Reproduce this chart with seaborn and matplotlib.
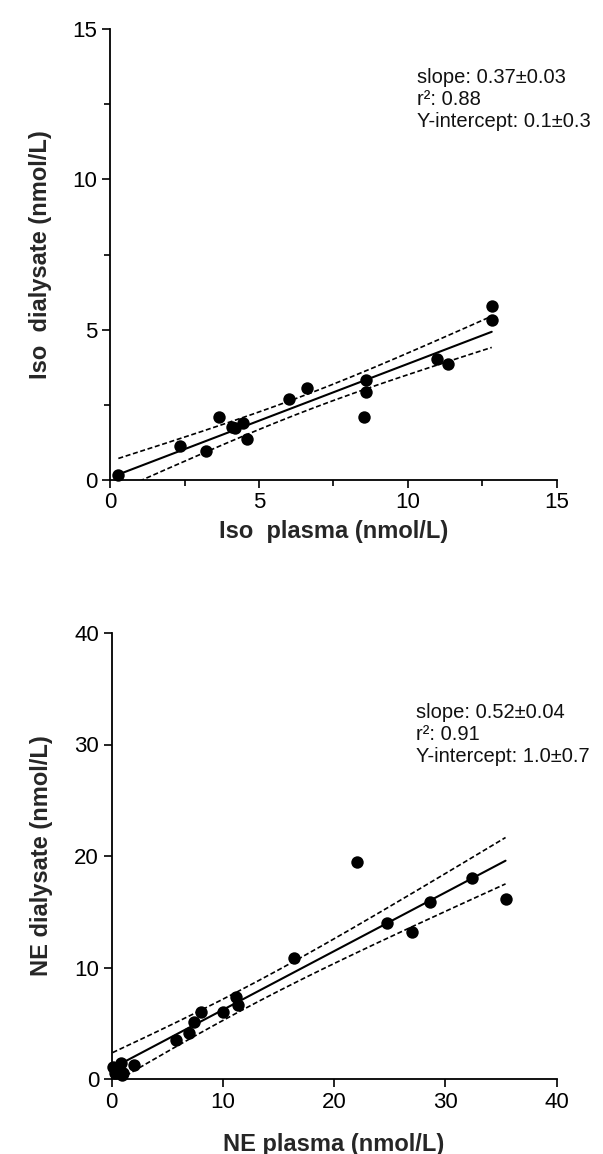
import numpy as np
import pandas as pd
import matplotlib
matplotlib.use("Agg")
import matplotlib.pyplot as plt
from matplotlib.ticker import MultipleLocator
import seaborn as sns

# ---- data ----
iso_plasma = [0.28, 2.35, 3.22, 3.65, 4.08, 4.20, 4.47, 4.59, 6.02, 6.60,
              8.58, 8.58, 8.53, 10.98, 11.33, 12.81, 12.81]
iso_dialysate = [0.17, 1.13, 0.96, 2.10, 1.75, 1.72, 1.89, 1.35, 2.69, 3.05,
                 3.33, 2.92, 2.10, 4.02, 3.85, 5.80, 5.32]

ne_plasma = [0.10, 0.30, 0.85, 0.90, 1.00, 2.00, 5.80, 7.00, 7.40, 8.00,
             10.05, 11.16, 11.34, 16.43, 22.03, 24.73, 27.03, 28.62, 32.36, 35.42]
ne_dialysate = [1.10, 0.50, 1.40, 0.40, 0.50, 1.30, 3.50, 4.15, 5.10, 6.04,
                5.98, 7.38, 6.64, 10.88, 19.49, 14.02, 13.21, 15.85, 18.05, 16.12]

iso_stats = ["slope: 0.37\u00b10.03", "r\u00b2: 0.88", "Y-intercept: 0.1\u00b10.3"]
ne_stats = ["slope: 0.52\u00b10.04", "r\u00b2: 0.91", "Y-intercept: 1.0\u00b10.7"]

iso_ticks = [0, 5, 10, 15]
ne_ticks = [0, 10, 20, 30, 40]

sns.set_theme(style="ticks")
plt.rcParams["font.family"] = ["Liberation Sans", "DejaVu Sans"]

fig = plt.figure(figsize=(6.03, 11.54), dpi=100)
fig.patch.set_facecolor("white")


def fit_bands(x, y, xs):
    x = np.asarray(x, float)
    y = np.asarray(y, float)
    n = len(x)
    b, a = np.polyfit(x, y, 1)
    resid = y - (a + b * x)
    s = np.sqrt(np.sum(resid ** 2) / (n - 2))
    sxx = np.sum((x - x.mean()) ** 2)
    t = 2.13 if n < 18 else 2.10
    se = s * np.sqrt(1.0 / n + (xs - x.mean()) ** 2 / sxx)
    yhat = a + b * xs
    return yhat, yhat - t * se, yhat + t * se


def panel(ax, x, y, xlabel, ylabel, ticks, stats, text_xy, minor, xpad):
    xs = np.linspace(min(x), max(x), 200)
    yhat, lo, hi = fit_bands(x, y, xs)
    df = pd.DataFrame({"x": x, "y": y})
    sns.lineplot(x=xs, y=yhat, ax=ax, color="black", lw=1.5)
    sns.lineplot(x=xs, y=lo, ax=ax, color="black", lw=1.2, linestyle=(0, (3, 1.6)))
    sns.lineplot(x=xs, y=hi, ax=ax, color="black", lw=1.2, linestyle=(0, (3, 1.6)))
    sns.scatterplot(data=df, x="x", y="y", ax=ax, color="black", s=80,
                    edgecolor="black", linewidth=0, clip_on=False, zorder=5)
    ax.set_xlim(ticks[0], ticks[-1])
    ax.set_ylim(ticks[0], ticks[-1])
    ax.set_xticks(ticks)
    ax.set_yticks(ticks)
    if minor:
        step = (ticks[1] - ticks[0]) / 2
        ax.xaxis.set_minor_locator(MultipleLocator(step))
        ax.yaxis.set_minor_locator(MultipleLocator(step))
        ax.tick_params(which="minor", length=4, width=1.2, color="black")
    ax.tick_params(which="major", length=6, width=1.2, labelsize=16,
                   color="black", labelcolor="black", pad=3)
    for sp in ["top", "right"]:
        ax.spines[sp].set_visible(False)
    for sp in ["left", "bottom"]:
        ax.spines[sp].set_linewidth(1.3)
        ax.spines[sp].set_color("black")
    ax.set_xlabel(xlabel, fontsize=17, fontweight="bold", labelpad=xpad)
    ax.set_ylabel(ylabel, fontsize=17, fontweight="bold", labelpad=15)
    ax.text(text_xy[0], text_xy[1], "\n".join(stats), fontsize=14.5,
            va="top", ha="left", linespacing=1.2, color="#111111")
    ax.set_facecolor("white")


ax1 = fig.add_axes([110 / 603, 1 - 480 / 1154, 447 / 603, 451 / 1154])
panel(ax1, iso_plasma, iso_dialysate, "Iso  plasma (nmol/L)",
      "Iso  dialysate (nmol/L)", iso_ticks, iso_stats, (10.3, 13.7), True, 5)

ax2 = fig.add_axes([111.5 / 603, 1 - 1079 / 1154, 445 / 603, 446 / 1154])
panel(ax2, ne_plasma, ne_dialysate, "NE plasma (nmol/L)",
      "NE dialysate (nmol/L)", ne_ticks, ne_stats, (27.4, 33.7), False, 15)

fig.savefig("out.png", dpi=100, facecolor="white")
